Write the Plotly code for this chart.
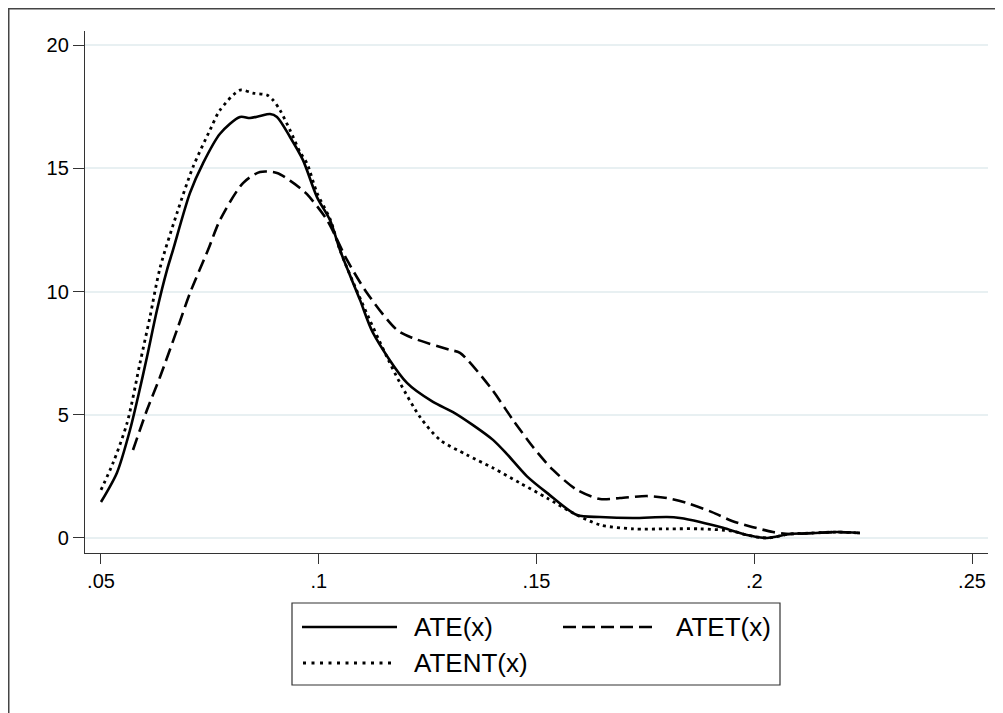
import plotly.graph_objects as go

# ---- data ----
ate_x = [0.0500, 0.05367, 0.05666, 0.0585, 0.06056, 0.06286, 0.06515, 0.06653, 0.07044, 0.07342,
         0.07733, 0.08192, 0.08421, 0.08651, 0.08881, 0.09041, 0.0934, 0.09638, 0.0996, 0.10258,
         0.10488, 0.10947, 0.11246, 0.12026, 0.12623, 0.13083, 0.13542, 0.14001, 0.14323, 0.14782,
         0.15241, 0.1593, 0.16458, 0.17216, 0.17997, 0.18295, 0.18755, 0.19283, 0.19834, 0.20293,
         0.20821, 0.21349, 0.219, 0.22428]
ate_y = [1.46, 2.65, 4.38, 5.72, 7.34, 9.25, 10.87, 11.68, 14.0, 15.2,
         16.4, 17.08, 17.04, 17.12, 17.2, 17.08, 16.27, 15.33, 13.83, 12.9,
         11.68, 9.66, 8.32, 6.29, 5.52, 5.11, 4.58, 3.98, 3.40, 2.50,
         1.83, 0.93, 0.85, 0.81, 0.85, 0.81, 0.65, 0.41, 0.12, 0.0,
         0.16, 0.20, 0.24, 0.20]

atet_x = [0.05735, 0.06056, 0.06355, 0.06745, 0.07044, 0.07457, 0.07733, 0.08261, 0.08651, 0.09041,
          0.0934, 0.09569, 0.0973, 0.1019, 0.10649, 0.11108, 0.11797, 0.12164, 0.13014, 0.13243,
          0.13932, 0.1446, 0.1492, 0.15379, 0.1593, 0.16458, 0.16917, 0.17537, 0.17997, 0.18456,
          0.1903, 0.1949, 0.19949, 0.20431, 0.20821, 0.21349, 0.219, 0.22428]
atet_y = [3.57, 5.19, 6.53, 8.44, 9.94, 11.68, 12.9, 14.4, 14.85, 14.81,
          14.5, 14.2, 13.95, 12.9, 11.28, 9.94, 8.44, 8.11, 7.63, 7.51,
          6.13, 4.79, 3.69, 2.76, 1.95, 1.58, 1.62, 1.70, 1.62, 1.42,
          1.05, 0.69, 0.45, 0.24, 0.16, 0.20, 0.24, 0.20]

atent_x = [0.0500, 0.05276, 0.0560, 0.05896, 0.06125, 0.06355, 0.06745, 0.07113, 0.07503, 0.07733,
           0.08192, 0.0849, 0.08812, 0.08949, 0.0911, 0.0934, 0.09569, 0.0973, 0.0996, 0.10258,
           0.10488, 0.1098, 0.11567, 0.11866, 0.12325, 0.12784, 0.13404, 0.14001, 0.14621, 0.15241,
           0.15838, 0.16458, 0.17216, 0.17997, 0.18755, 0.1949, 0.19834, 0.20293, 0.20821, 0.21349,
           0.219, 0.22428]
atent_y = [1.95, 3.04, 4.67, 7.1, 8.97, 10.95, 13.18, 15.05, 16.55, 17.36,
           18.17, 18.05, 17.97, 17.77, 17.36, 16.55, 15.66, 15.2, 14.0, 12.95,
           11.68, 9.6, 7.34, 6.29, 4.91, 3.98, 3.37, 2.84, 2.23, 1.62,
           1.01, 0.53, 0.37, 0.37, 0.37, 0.28, 0.12, 0.0, 0.16, 0.20,
           0.24, 0.20]

x_tickvals = [0.05, 0.10, 0.15, 0.20, 0.25]
x_ticktext = [".05", ".1", ".15", ".2", ".25"]
y_tickvals = [0, 5, 10, 15, 20]
y_ticktext = ["0", "5", "10", "15", "20"]

series_names = ["ATE(x)", "ATET(x)", "ATENT(x)"]

FONT = "Liberation Sans, Arial, Helvetica, sans-serif"
AX = "#333333"

fig = go.Figure()
fig.add_trace(go.Scatter(x=ate_x, y=ate_y, mode="lines", name=series_names[0],
                         line=dict(color="black", width=2.6, shape="spline", smoothing=0.8)))
fig.add_trace(go.Scatter(x=atet_x, y=atet_y, mode="lines", name=series_names[1],
                         line=dict(color="black", width=2.6, dash="13px,6px", shape="spline", smoothing=0.8)))
fig.add_trace(go.Scatter(x=atent_x, y=atent_y, mode="lines", name=series_names[2],
                         line=dict(color="black", width=2.8, dash="3px,4px", shape="spline", smoothing=0.8)))

# page has an 8px body margin, so figure pixel = page pixel - 8
OFF = 8
W, H = 995, 705
L, R, T, B = 77, 15, 23, 160
pw, ph = W - L - R, H - T - B


def px(page_x):
    return (page_x - OFF - L) / pw


def py(page_y):
    return (H - B - (page_y - OFF)) / ph


shapes = []
# outer figure frame (right/bottom edges fall outside the window)
shapes.append(dict(type="rect", xref="paper", yref="paper",
                   x0=px(8.75), x1=px(1020), y0=py(730), y1=py(8.75),
                   line=dict(color="#444444", width=1.5), fillcolor="rgba(0,0,0,0)", layer="below"))
# legend box
shapes.append(dict(type="rect", xref="paper", yref="paper",
                   x0=px(292), x1=px(780), y0=py(685), y1=py(603),
                   line=dict(color="#333333", width=1.2), fillcolor="white"))
# legend samples
row1, row2 = 627, 663
shapes.append(dict(type="line", xref="paper", yref="paper", x0=px(302), x1=px(397), y0=py(row1), y1=py(row1),
                   line=dict(color="black", width=2.6)))
shapes.append(dict(type="line", xref="paper", yref="paper", x0=px(563), x1=px(658), y0=py(row1), y1=py(row1),
                   line=dict(color="black", width=2.6, dash="13px,6px")))
shapes.append(dict(type="line", xref="paper", yref="paper", x0=px(303), x1=px(392), y0=py(row2), y1=py(row2),
                   line=dict(color="black", width=2.8, dash="3px,5.5px")))

annotations = []
for name, xp, yp in [(series_names[0], 412, row1), (series_names[1], 674, row1), (series_names[2], 412, row2)]:
    annotations.append(dict(text=name, xref="paper", yref="paper", x=px(xp), y=py(yp),
                            xanchor="left", yanchor="middle", showarrow=False,
                            font=dict(family=FONT, size=26, color="black")))

fig.update_layout(
    width=W, height=H,
    margin=dict(l=L, r=R, t=T, b=B),
    paper_bgcolor="white", plot_bgcolor="white",
    showlegend=False,
    font=dict(family=FONT, color="black"),
    shapes=shapes, annotations=annotations,
)
fig.update_xaxes(range=[0.04633, 0.25367], tickvals=x_tickvals, ticktext=x_ticktext,
                 showgrid=False, zeroline=False, showline=True, linecolor=AX, linewidth=1.3,
                 ticks="outside", ticklen=10, tickwidth=1.3, tickcolor=AX,
                 tickfont=dict(family=FONT, size=20, color="black"))
fig.update_yaxes(range=[-0.61, 20.57], tickvals=y_tickvals, ticktext=y_ticktext,
                 showgrid=True, gridcolor="#e8f0f2", gridwidth=2, zeroline=False,
                 showline=True, linecolor=AX, linewidth=1.3,
                 ticks="outside", ticklen=11, tickwidth=1.3, tickcolor=AX,
                 tickfont=dict(family=FONT, size=20, color="black"))

fig.write_html("out.html")
